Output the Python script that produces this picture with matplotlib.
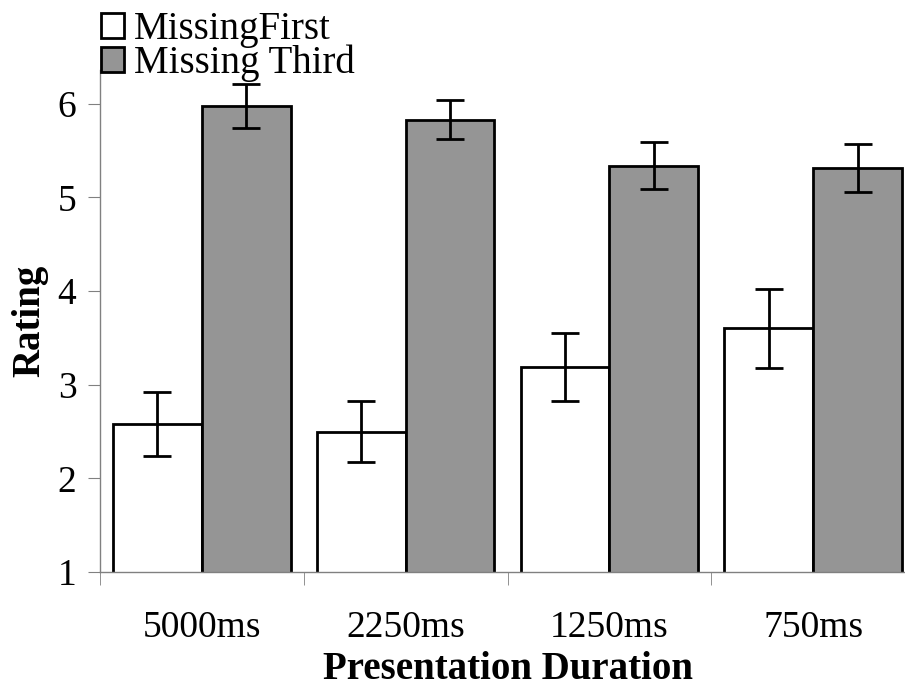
import numpy as np
import matplotlib.pyplot as plt

durations = ["5000ms", "2250ms", "1250ms", "750ms"]
missing_first = [2.58, 2.50, 3.19, 3.60]
missing_first_err = [0.34, 0.33, 0.365, 0.42]
missing_third = [5.98, 5.83, 5.34, 5.31]
missing_third_err = [0.235, 0.21, 0.25, 0.255]

plt.rcParams["font.family"] = ["Liberation Serif", "DejaVu Serif"]

fig = plt.figure(figsize=(9.05, 6.87), dpi=100)
ax = fig.add_axes([100 / 905, 1 - 572 / 687, 815 / 905, (572 - 70) / 687])

x = np.arange(len(durations))
w = 0.436
err_kw = dict(ecolor="black", elinewidth=2, capsize=10, capthick=2)
ax.bar(x - w / 2, missing_first, w, yerr=missing_first_err, color="white",
       edgecolor="black", linewidth=2, label="MissingFirst", error_kw=err_kw)
ax.bar(x + w / 2, missing_third, w, yerr=missing_third_err, color="#959595",
       edgecolor="black", linewidth=2, label="Missing Third", error_kw=err_kw)

ax.set_xlim(-0.5, len(durations) - 0.5)
ax.set_ylim(1, 6.36)
ax.set_yticks([1, 2, 3, 4, 5, 6])
ax.set_xticks(x)
ax.set_xticklabels(durations)
ax.set_xticks(np.arange(len(durations) + 1) - 0.5, minor=True)

for s in ["top", "right"]:
    ax.spines[s].set_visible(False)
for s in ["left", "bottom"]:
    ax.spines[s].set_color("#808080")
    ax.spines[s].set_linewidth(1)

ax.tick_params(axis="y", labelsize=27, length=9, color="#808080", pad=8)
ax.tick_params(axis="x", which="major", labelsize=27, length=0, pad=28)
ax.tick_params(axis="x", which="minor", length=9, color="#808080")

ax.set_ylabel("Rating", fontsize=28, fontweight="bold", labelpad=7)
ax.set_xlabel("Presentation Duration", fontsize=28, fontweight="bold", labelpad=4)

fig.legend(loc="upper left", bbox_to_anchor=(101 / 905, 1 - 11 / 687), frameon=False,
           fontsize=28, handlelength=0.6, handleheight=0.6, handletextpad=0.25,
           labelspacing=-0.08, borderaxespad=0, borderpad=0)

fig.savefig("out.png", dpi=100)
